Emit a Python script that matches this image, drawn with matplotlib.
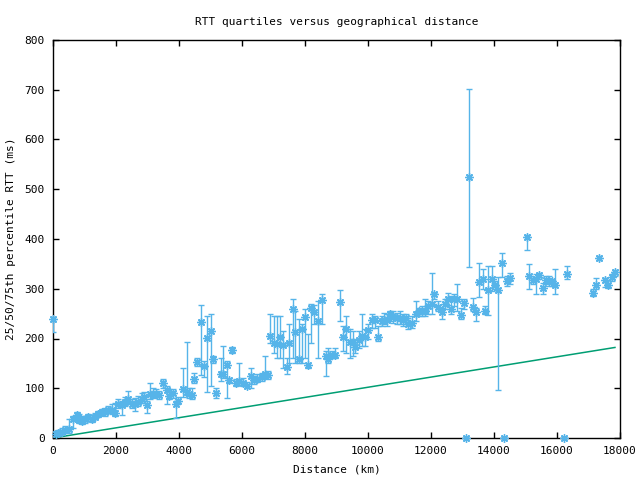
import matplotlib
matplotlib.use("Agg")
import matplotlib.pyplot as plt
import numpy as np

title = "RTT quartiles versus geographical distance"
xlabel = "Distance (km)"
ylabel = "25/50/75th percentile RTT (ms)"

distance = [0, 95, 170, 275, 380, 520, 645, 750, 835, 910, 1015, 1120, 1230, 1333, 1440, 1545, 1650, 1755,
            1860, 1970, 2075, 2180, 2285, 2390, 2500, 2600, 2710, 2815, 2890, 2995, 3080, 3185, 3270, 3365,
            3505, 3610, 3690, 3800, 3905, 3980, 4115, 4245, 4330, 4400, 4480, 4580, 4700, 4795, 4880, 5005,
            5090, 5175, 5325, 5410, 5515, 5600, 5695, 5810, 5915, 6040, 6170, 6285, 6380, 6485, 6625, 6730,
            6835, 6890, 7015, 7100, 7205, 7310, 7415, 7500, 7610, 7685, 7820, 7905, 8010, 8105, 8200, 8285,
            8415, 8530, 8660, 8740, 8850, 8955, 9100, 9195, 9300, 9430, 9515, 9600, 9725, 9800, 9905, 10010,
            10115, 10225, 10330, 10430, 10520, 10615, 10700, 10785, 10910, 11015, 11100, 11205, 11280, 11390,
            11525, 11630, 11715, 11810, 11915, 12020, 12105, 12230, 12340, 12445, 12530, 12625, 12730, 12835,
            12945, 13050, 13110, 13215, 13320, 13430, 13535, 13640, 13715, 13820, 13925, 14030, 14135, 14245,
            14320, 14405, 14510, 15040, 15125, 15230, 15335, 15440, 15545, 15650, 15755, 15830, 15935, 16220,
            16330, 17155, 17240, 17345, 17525, 17630, 17735, 17840]
q50 = [240, 9, 11, 13, 17, 19, 39, 46, 36, 35, 39, 43, 39, 43, 49, 53, 53, 56,
       57, 51, 69, 66, 73, 79, 69, 69, 73, 79, 83, 66, 89, 89, 89, 86,
       111, 96, 84, 91, 68, 75, 99, 93, 88, 86, 119, 153, 234, 145, 201, 215,
       159, 91, 128, 128, 147, 116, 176, 111, 114, 111, 104, 124, 116, 119, 123, 128,
       126, 206, 191, 188, 204, 186, 143, 191, 259, 213, 159, 219, 244, 146, 261, 254,
       236, 278, 164, 159, 166, 166, 273, 204, 219, 193, 193, 183, 197, 206, 204, 217,
       237, 237, 204, 236, 237, 237, 249, 244, 241, 241, 237, 241, 229, 231,
       249, 255, 256, 256, 266, 269, 289, 264, 253, 269, 279, 259, 279, 279,
       248, 271, 0, 524, 264, 253, 313, 319, 256, 297, 319, 308, 297, 351,
       0, 315, 321, 404, 326, 317, 319, 328, 301, 317, 315, 315, 308, 0,
       329, 291, 308, 361, 317, 308, 324, 333]
q25 = [214, 5, 6, 8, 10, 10, 20, 38, 30, 28, 30, 35, 32, 38, 42, 46, 45, 50,
       48, 44, 60, 46, 65, 70, 60, 55, 65, 70, 70, 50, 78, 80, 82, 78,
       100, 68, 78, 80, 40, 70, 82, 86, 80, 78, 110, 145, 126, 122, 93, 104,
       150, 80, 115, 120, 80, 110, 170, 105, 110, 105, 100, 100, 108, 112, 115, 120,
       118, 190, 170, 160, 160, 140, 128, 150, 160, 150, 150, 150, 160, 140, 190, 230,
       160, 230, 125, 150, 160, 160, 236, 175, 170, 160, 165, 170, 180, 185, 185, 200,
       222, 222, 195, 225, 230, 225, 235, 232, 230, 230, 225, 230, 220, 222,
       235, 245, 245, 245, 250, 250, 280, 255, 240, 260, 268, 250, 265, 255,
       240, 260, 0, 344, 255, 235, 284, 300, 250, 248, 295, 300, 97, 324,
       0, 305, 310, 377, 300, 310, 290, 320, 290, 310, 305, 305, 290, 0,
       320, 285, 300, 358, 304, 302, 315, 326]
q75 = [240, 14, 16, 20, 24, 38, 45, 52, 48, 45, 45, 48, 46, 50, 55, 58, 60, 65,
       68, 70, 78, 75, 82, 95, 78, 80, 85, 90, 92, 75, 110, 100, 98, 95,
       118, 105, 98, 98, 75, 82, 140, 193, 100, 100, 130, 160, 268, 155, 246, 249,
       165, 100, 160, 185, 155, 120, 182, 118, 150, 120, 112, 140, 125, 128, 130, 165,
       135, 250, 245, 245, 245, 215, 160, 230, 280, 255, 240, 230, 260, 210, 270, 268,
       275, 290, 175, 180, 175, 180, 297, 225, 245, 220, 215, 200, 215, 250, 220, 230,
       250, 245, 225, 245, 252, 250, 255, 255, 252, 255, 250, 250, 242, 245,
       275, 262, 265, 280, 275, 332, 292, 275, 262, 280, 292, 285, 290, 310,
       262, 280, 0, 702, 282, 262, 351, 340, 265, 346, 346, 316, 323, 372,
       0, 325, 332, 409, 350, 322, 330, 332, 312, 325, 325, 320, 340, 0,
       345, 300, 322, 365, 322, 318, 330, 338]

line_x = [0, 17840]
line_y = [0, 182]

blue = "#56B4E9"
green = "#009E73"

plt.rcParams['font.family'] = ['DejaVu Sans Mono']
fig = plt.figure(figsize=(6.4, 4.8), dpi=100)
ax = fig.add_axes([53/640, 42/480, 567/640, 398/480])

d = np.array(distance, dtype=float)
m = np.array(q50, dtype=float)
lo = np.array(q25, dtype=float)
hi = np.array(q75, dtype=float)

ax.plot(line_x, line_y, color=green, lw=1.1, zorder=2)
ax.errorbar(d, m, yerr=[m - lo, hi - m], fmt='none', ecolor=blue, elinewidth=1.0,
            capsize=2.0, capthick=1.0, zorder=3)
ax.plot(d, m, linestyle='none', marker=(8, 2, 0), markersize=6, markeredgewidth=1.0,
        color=blue, zorder=4, clip_on=False)

ax.set_xlim(0, 18000)
ax.set_ylim(0, 800)
ax.set_xticks(np.arange(0, 18001, 2000))
ax.set_yticks(np.arange(0, 801, 100))
ax.tick_params(direction='in', length=4, width=1, top=True, right=True, labelsize=8, pad=6)
for s in ax.spines.values():
    s.set_linewidth(1.0)

ax.set_title(title, fontsize=8, pad=11)
ax.set_xlabel(xlabel, fontsize=8, labelpad=6)
ax.set_ylabel(ylabel, fontsize=8, labelpad=6)

fig.savefig("out.png", dpi=100)
